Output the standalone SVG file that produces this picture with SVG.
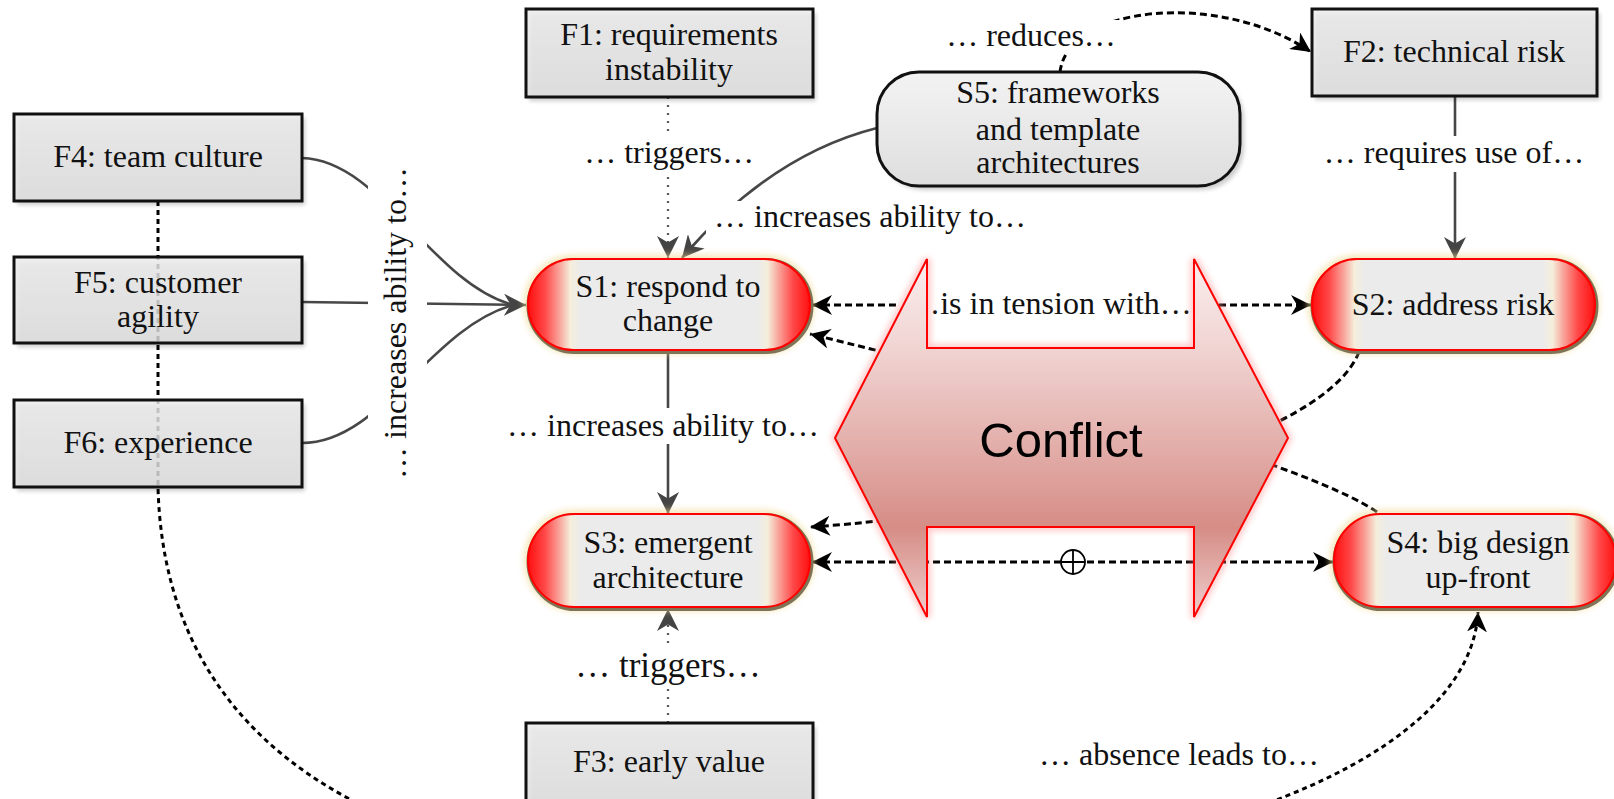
<svg xmlns="http://www.w3.org/2000/svg" width="1614" height="799" viewBox="0 0 1614 799">
  <defs>
    <style>
      .lbl { font-family: "Liberation Serif", "DejaVu Serif", serif; font-size: 32px; fill: #111; text-anchor: middle; }
      .fbox { fill: url(#boxFill); fill-opacity: 0.82; stroke: #111; stroke-width: 3; }
      .s5box { fill: url(#s5Fill); stroke: #111; stroke-width: 3; }
      .shadow { fill: #000; opacity: 0.2; filter: url(#blur2); }
      .pill-glow { fill: none; stroke: #f0d890; stroke-width: 9; opacity: 0.6; filter: url(#blur3); }
      .pill-rim { fill: none; stroke: #7f7456; stroke-width: 5; }
      .pill { fill: url(#pillFill); stroke: #ff0000; stroke-width: 2; }
      .solid { fill: none; stroke: #474747; stroke-width: 2.6; }
      .dash { fill: none; stroke: #000; stroke-width: 3; stroke-dasharray: 7 4; }
      .dot { fill: none; stroke: #555; stroke-width: 2.2; stroke-dasharray: 2 6; }
      .bg { fill: #fff; }
    </style>
    <linearGradient id="boxFill" x1="0" y1="0" x2="0" y2="1">
      <stop offset="0" stop-color="#efefef"/>
      <stop offset="1" stop-color="#e0e0e0"/>
    </linearGradient>
    <linearGradient id="s5Fill" x1="0" y1="0" x2="0" y2="1">
      <stop offset="0" stop-color="#f3f3f3"/>
      <stop offset="1" stop-color="#dedede"/>
    </linearGradient>
    <linearGradient id="pillFill" x1="0" y1="0" x2="1" y2="0">
      <stop offset="0" stop-color="#ff0f0f"/>
      <stop offset="0.06" stop-color="#ff4848"/>
      <stop offset="0.115" stop-color="#f8aaa0"/>
      <stop offset="0.15" stop-color="#f5eedb"/>
      <stop offset="0.185" stop-color="#ebebeb"/>
      <stop offset="0.815" stop-color="#ebebeb"/>
      <stop offset="0.85" stop-color="#f5eedb"/>
      <stop offset="0.885" stop-color="#f8aaa0"/>
      <stop offset="0.94" stop-color="#ff4848"/>
      <stop offset="1" stop-color="#ff0f0f"/>
    </linearGradient>
    <linearGradient id="conflictFill" x1="0" y1="0" x2="0" y2="1">
      <stop offset="0" stop-color="#fbeeee"/>
      <stop offset="0.25" stop-color="#f0d4d2"/>
      <stop offset="0.5" stop-color="#e4b1ad"/>
      <stop offset="0.75" stop-color="#d68d86"/>
      <stop offset="1" stop-color="#efcfcf"/>
    </linearGradient>
    <filter id="blur2" x="-10%" y="-10%" width="120%" height="130%">
      <feGaussianBlur stdDeviation="2"/>
    </filter>
    <filter id="blur3" x="-10%" y="-20%" width="120%" height="140%">
      <feGaussianBlur stdDeviation="3"/>
    </filter>
    <marker id="ahGray" viewBox="0 0 20 20" refX="20" refY="10" markerWidth="22" markerHeight="22" markerUnits="userSpaceOnUse" orient="auto-start-reverse">
      <path d="M0,0 L20,10 L0,20 L6,10 z" fill="#444"/>
    </marker>
    <marker id="ahBlack" viewBox="0 0 20 20" refX="20" refY="10" markerWidth="20" markerHeight="20" markerUnits="userSpaceOnUse" orient="auto-start-reverse">
      <path d="M0,0 L20,10 L0,20 L6,10 z" fill="#000"/>
    </marker>
  </defs>

  <rect width="1614" height="799" fill="#fff"/>

  <!-- connectors -->
  <g id="connectors">
    <!-- F4 / F5 / F6 merge into S1 -->
    <path class="solid" d="M302,158 C380,160 430,280 510,304"/>
    <path class="solid" d="M302,443 C380,443 430,330 510,306"/>
    <path class="solid" d="M302,302 L526,305" marker-end="url(#ahGray)"/>
    <!-- F1 triggers S1 -->
    <path class="dot" d="M668,97 L668,258" marker-end="url(#ahGray)"/>
    <!-- S5 increases ability to S1 -->
    <path class="solid" d="M877,128 Q770,155 682,258" marker-end="url(#ahGray)"/>
    <!-- S5 reduces F2 -->
    <path class="dash" d="M1060,72 C1068,5 1220,-10 1311,52" marker-end="url(#ahBlack)"/>
    <!-- F2 requires use of S2 -->
    <path class="solid" d="M1455,97 L1455,259" marker-end="url(#ahGray)"/>
    <!-- S1 in tension with S2 -->
    <path class="dash" d="M812,305 L1311,305" marker-start="url(#ahBlack)" marker-end="url(#ahBlack)"/>
    <!-- S4 to S1 -->
    <path class="dash" d="M1377,512 C1300,460 1000,380 810,334" marker-end="url(#ahBlack)"/>
    <!-- S2 to S3 -->
    <path class="dash" d="M1359,352 C1320,450 1000,515 810,527" marker-end="url(#ahBlack)"/>
    <!-- S3 exclusive-or S4 -->
    <path class="dash" d="M812,562 L1333,562" marker-start="url(#ahBlack)" marker-end="url(#ahBlack)"/>
    <!-- S1 increases ability to S3 -->
    <path class="solid" d="M668,350 L668,514" marker-end="url(#ahGray)"/>
    <!-- F3 triggers S3 -->
    <path class="dot" d="M668,723 L668,609" marker-end="url(#ahGray)"/>
    <!-- F4 - F5 - F6 chain, absence leads to S4 -->
    <path class="dash" style="stroke-dasharray:5 4" d="M158,201 L158,487 C165,760 400,880 760,880 C1150,880 1470,770 1478,612" marker-end="url(#ahBlack)"/>
  </g>

  <!-- connector labels -->
  <g id="labels">
    <rect class="bg" x="368" y="160" width="59" height="325"/>
    <text class="lbl" transform="translate(406,323) rotate(-90)">… increases ability to…</text>

    <rect class="bg" x="580" y="133" width="178" height="38"/>
    <text class="lbl" x="669" y="163">… triggers…</text>

    <rect class="bg" x="706" y="201" width="326" height="34"/>
    <text class="lbl" x="870" y="227">… increases ability to…</text>

    <rect class="bg" x="944" y="20" width="176" height="34"/>
    <text class="lbl" x="1031" y="46">… reduces…</text>

    <rect class="bg" x="1318" y="136" width="272" height="36"/>
    <text class="lbl" x="1454" y="163">… requires use of…</text>

    <rect class="bg" x="900" y="288" width="300" height="34"/>
    <text class="lbl" x="1050" y="314">…is in tension with…</text>

    <rect class="bg" x="500" y="408" width="326" height="36"/>
    <text class="lbl" x="663" y="436">… increases ability to…</text>

    <rect class="bg" x="566" y="645" width="204" height="44"/>
    <text class="lbl" x="668" y="677" style="font-size:35px">… triggers…</text>

    <text class="lbl" x="1179" y="765">… absence leads to…</text>

    <g id="xor">
      <circle cx="1073" cy="562" r="12" fill="#fff" stroke="#000" stroke-width="1.8"/>
      <path d="M1061,562 H1085 M1073,550 V574" stroke="#000" stroke-width="1.8"/>
    </g>
  </g>

  <!-- factor boxes -->
  <g id="F1">
    <rect class="shadow" x="529" y="13" width="287" height="88"/>
    <rect class="fbox" x="526" y="9" width="287" height="88"/>
    <text class="lbl" x="669" y="45">F1: requirements</text>
    <text class="lbl" x="669" y="80">instability</text>
  </g>
  <g id="F2">
    <rect class="shadow" x="1315" y="13" width="285" height="87"/>
    <rect class="fbox" x="1312" y="9" width="285" height="87"/>
    <text class="lbl" x="1454" y="62">F2: technical risk</text>
  </g>
  <g id="F3">
    <rect class="shadow" x="529" y="727" width="287" height="88"/>
    <rect class="fbox" x="526" y="723" width="287" height="88"/>
    <text class="lbl" x="669" y="772">F3: early value</text>
  </g>
  <g id="F4">
    <rect class="shadow" x="17" y="118" width="288" height="87"/>
    <rect class="fbox" x="14" y="114" width="288" height="87"/>
    <text class="lbl" x="158" y="167">F4: team culture</text>
  </g>
  <g id="F5">
    <rect class="shadow" x="17" y="261" width="288" height="86"/>
    <rect class="fbox" x="14" y="257" width="288" height="86"/>
    <text class="lbl" x="158" y="293">F5: customer</text>
    <text class="lbl" x="158" y="327">agility</text>
  </g>
  <g id="F6">
    <rect class="shadow" x="17" y="404" width="288" height="87"/>
    <rect class="fbox" x="14" y="400" width="288" height="87"/>
    <text class="lbl" x="158" y="453">F6: experience</text>
  </g>

  <!-- strategy nodes -->
  <g id="S5">
    <rect class="shadow" x="881" y="76" width="363" height="114" rx="42"/>
    <rect class="s5box" x="877" y="72" width="363" height="114" rx="42"/>
    <text class="lbl" x="1058" y="103">S5: frameworks</text>
    <text class="lbl" x="1058" y="140">and template</text>
    <text class="lbl" x="1058" y="173">architectures</text>
  </g>
  <g id="S1">
    <rect class="pill-glow" x="528" y="259" width="282" height="91" rx="45.5"/>
    <rect class="pill-rim" x="529" y="260.5" width="282" height="91" rx="45.5"/>
    <rect class="pill" x="528" y="259" width="282" height="91" rx="45.5"/>
    <text class="lbl" x="668" y="297">S1: respond to</text>
    <text class="lbl" x="668" y="331">change</text>
  </g>
  <g id="S2">
    <rect class="pill-glow" x="1312" y="259" width="283" height="91" rx="45.5"/>
    <rect class="pill-rim" x="1313" y="260.5" width="283" height="91" rx="45.5"/>
    <rect class="pill" x="1312" y="259" width="283" height="91" rx="45.5"/>
    <text class="lbl" x="1453" y="315">S2: address risk</text>
  </g>
  <g id="S3">
    <rect class="pill-glow" x="528" y="514" width="282" height="93" rx="46.5"/>
    <rect class="pill-rim" x="529" y="515.5" width="282" height="93" rx="46.5"/>
    <rect class="pill" x="528" y="514" width="282" height="93" rx="46.5"/>
    <text class="lbl" x="668" y="553">S3: emergent</text>
    <text class="lbl" x="668" y="588">architecture</text>
  </g>
  <g id="S4">
    <rect class="pill-glow" x="1334" y="514" width="282" height="93" rx="46.5"/>
    <rect class="pill-rim" x="1335" y="515.5" width="282" height="93" rx="46.5"/>
    <rect class="pill" x="1334" y="514" width="282" height="93" rx="46.5"/>
    <text class="lbl" x="1478" y="553">S4: big design</text>
    <text class="lbl" x="1478" y="588">up-front</text>
  </g>

  <!-- double-headed conflict arrow over the middle -->
  <g id="conflict">
    <polygon points="835,438 927,259 927,348 1194,348 1194,259 1288,438 1194,617 1194,527 927,527 927,617"
             fill="none" stroke="#ff8a8a" stroke-width="7" opacity="0.5" filter="url(#blur3)"/>
    <polygon points="835,438 927,259 927,348 1194,348 1194,259 1288,438 1194,617 1194,527 927,527 927,617"
             fill="url(#conflictFill)" stroke="#ff0000" stroke-width="2"/>
    <text x="1061" y="457" font-family="'Liberation Sans', Arial, sans-serif" font-size="49" fill="#000" text-anchor="middle">Conflict</text>
  </g>
</svg>
